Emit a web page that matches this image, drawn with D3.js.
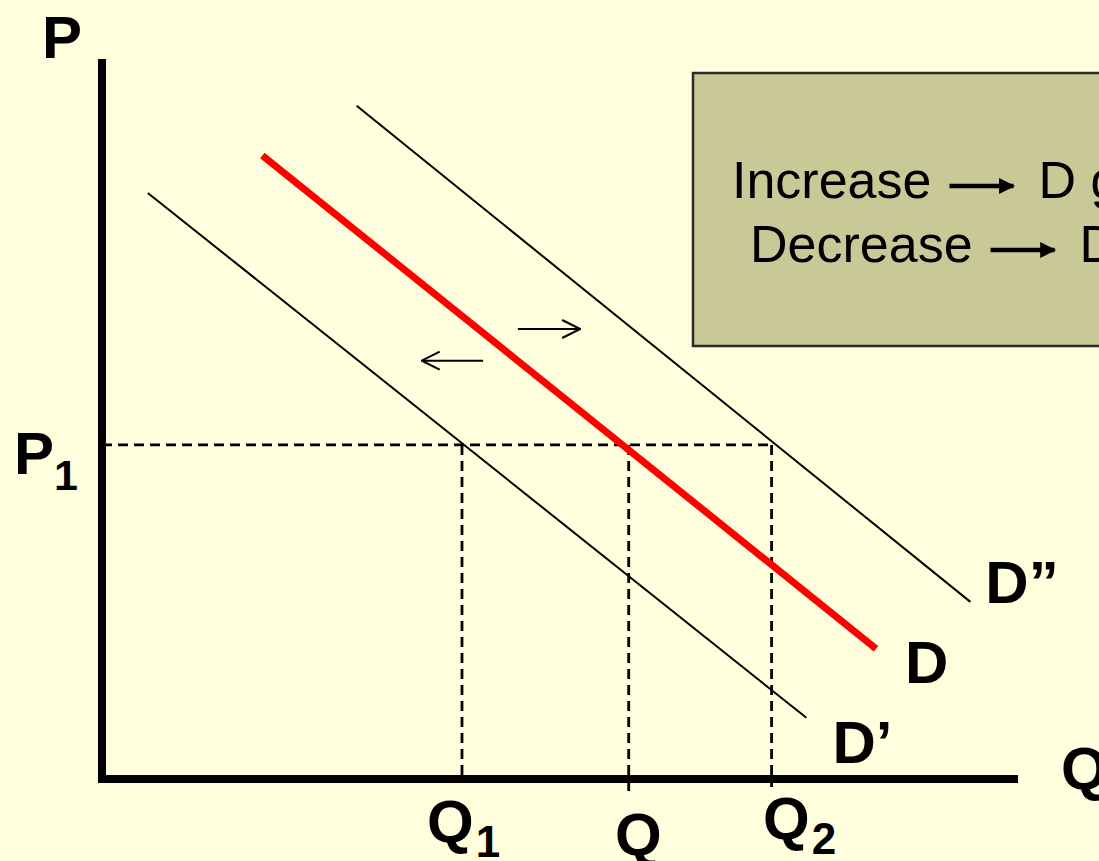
<!DOCTYPE html>
<head>
  <meta charset="utf-8">
  <script src="https://d3js.org/d3.v7.min.js"></script>
  <style>
    body{
      margin: 0;
      background: #ffffdd;
    }
    text{
      font-family: "Liberation Sans", Arial, sans-serif;
      fill: #000000;
    }
    text.axisLabel, text.curveLabel, text.qLabel{
      font-size: 60px;
      font-weight: 700;
    }
    text.boxText{
      font-size: 52px;
    }
  </style>
</head>

<body>
  <script>
    var width = 1099;
    var height = 861;

    // demand curves: D', D, D''
    const curveNames = ["D\u2019", "D", "D\u201D"];
    const curveStartQ = [5.0, 17.5, 27.8];
    const curveStartP = [81.4, 86.6, 93.5];
    const curveEndQ = [76.9, 84.5, 94.8];
    const curveEndP = [8.5, 18.1, 24.6];
    const curveColours = ["#000000", "#ff0000", "#000000"];
    const curveWidths = [2, 7, 2];

    // equilibrium quantities at price P1
    const qLevels = [39.3, 57.5, 73.1];
    const qSubs = ["1", "", "2"];
    const p1 = 46.4;

    // legend lines in the box
    const boxWords = ["Increase", "Decrease"];
    const boxResults = ["D goes right", "D goes left"];

    var svg = d3.select("body").append("svg")
      .attr("width", width)
      .attr("height", height)
      .style("display", "block");

    svg.append("rect")
      .attr("width", width)
      .attr("height", height)
      .style("fill", "#ffffdd");

    let x = d3.scaleLinear()
      .domain([0, 100])
      .range([102, 1018]);

    let y = d3.scaleLinear()
      .domain([0, 100])
      .range([779, 59]);

    //arrow heads
    let defs = svg.append("defs");
    defs.append("marker")
      .attr("id", "solidHead")
      .attr("viewBox", "0 0 10 10")
      .attr("refX", 9)
      .attr("refY", 5)
      .attr("markerUnits", "userSpaceOnUse")
      .attr("markerWidth", 20)
      .attr("markerHeight", 16)
      .attr("orient", "auto")
      .append("path")
      .attr("d", "M0,0 L10,5 L0,10 Z")
      .style("fill", "#000");
    defs.append("marker")
      .attr("id", "openHead")
      .attr("viewBox", "0 0 20 20")
      .attr("refX", 19)
      .attr("refY", 10)
      .attr("markerUnits", "userSpaceOnUse")
      .attr("markerWidth", 20)
      .attr("markerHeight", 20)
      .attr("orient", "auto")
      .append("path")
      .attr("d", "M1,1 L19,10 L1,19")
      .style("fill", "none")
      .style("stroke", "#000")
      .style("stroke-width", 2);

    //Legend box (runs off the right edge)
    svg.append("rect")
      .attr("x", 693)
      .attr("y", 73)
      .attr("width", 500)
      .attr("height", 273)
      .style("fill", "#c9c998")
      .style("stroke", "#2b2b2b")
      .style("stroke-width", 2.5);

    const boxRowX = [732, 750];
    const boxRowY = [198, 262];
    boxWords.forEach((w, i) => {
      let t = svg.append("text")
        .attr("class", "boxText")
        .attr("x", boxRowX[i])
        .attr("y", boxRowY[i])
        .text(w);
      let tw = t.node().getComputedTextLength();
      let ax0 = boxRowX[i] + tw + 18;
      let ax1 = ax0 + 64;
      svg.append("line")
        .attr("x1", ax0)
        .attr("x2", ax1)
        .attr("y1", boxRowY[i] - 12)
        .attr("y2", boxRowY[i] - 12)
        .style("stroke", "#000")
        .style("stroke-width", 4.5)
        .attr("marker-end", "url(#solidHead)");
      svg.append("text")
        .attr("class", "boxText")
        .attr("x", ax1 + 25)
        .attr("y", boxRowY[i])
        .text(boxResults[i]);
    });

    //Dashed guides
    let dash = svg.append("g")
      .style("stroke", "#000")
      .style("stroke-width", 2.8)
      .style("stroke-dasharray", "10,6")
      .style("fill", "none");

    dash.append("line")
      .attr("x1", x(0))
      .attr("x2", x(d3.max(qLevels)))
      .attr("y1", y(p1))
      .attr("y2", y(p1));

    const dropBelow = [0, 14, 8];
    dash.selectAll("line.drop")
      .data(qLevels)
      .enter()
      .append("line")
      .attr("class", "drop")
      .attr("x1", d => x(d))
      .attr("x2", d => x(d))
      .attr("y1", y(p1))
      .attr("y2", (d, i) => y(0) + dropBelow[i]);

    //Demand curves
    const curves = curveNames.map((n, i) => ({
      name: n,
      pts: [[curveStartQ[i], curveStartP[i]], [curveEndQ[i], curveEndP[i]]],
      colour: curveColours[i],
      w: curveWidths[i]
    }));

    let line = d3.line()
      .x(d => x(d[0]))
      .y(d => y(d[1]));

    svg.selectAll("path.curve")
      .data(curves)
      .enter()
      .append("path")
      .attr("class", "curve")
      .attr("d", d => line(d.pts))
      .style("fill", "none")
      .style("stroke", d => d.colour)
      .style("stroke-width", d => d.w);

    //curve labels, offset from the end of each curve
    const labelDx = [26, 29, 15];
    const labelDy = [45, 34, 1];
    svg.selectAll("text.curveLabel")
      .data(curves)
      .enter()
      .append("text")
      .attr("class", "curveLabel")
      .attr("x", (d, i) => x(d.pts[1][0]) + labelDx[i])
      .attr("y", (d, i) => y(d.pts[1][1]) + labelDy[i])
      .text(d => d.name);

    //shift arrows
    const shiftFrom = [[45.4, 62.5], [41.6, 58.1]];
    const shiftTo = [[52.2, 62.5], [34.9, 58.1]];
    shiftFrom.forEach((s, i) => {
      svg.append("line")
        .attr("x1", x(s[0]))
        .attr("y1", y(s[1]))
        .attr("x2", x(shiftTo[i][0]))
        .attr("y2", y(shiftTo[i][1]))
        .style("stroke", "#000")
        .style("stroke-width", 2)
        .attr("marker-end", "url(#openHead)");
    });

    //Axes
    svg.append("line")
      .attr("x1", x(0))
      .attr("x2", x(0))
      .attr("y1", y(100))
      .attr("y2", y(0) + 4)
      .style("stroke", "#000")
      .style("stroke-width", 8);
    svg.append("line")
      .attr("x1", x(0) + 1)
      .attr("x2", x(100))
      .attr("y1", y(0))
      .attr("y2", y(0))
      .style("stroke", "#000")
      .style("stroke-width", 8);

    svg.append("text")
      .attr("class", "axisLabel")
      .attr("x", 42)
      .attr("y", 58)
      .text("P");
    svg.append("text")
      .attr("class", "axisLabel")
      .attr("x", 1061)
      .attr("y", 789)
      .text("Q");

    let p1Label = svg.append("text")
      .attr("class", "axisLabel")
      .attr("x", 14)
      .attr("y", y(p1) + 29);
    p1Label.append("tspan").text("P");
    p1Label.append("tspan")
      .attr("dy", 16)
      .style("font-size", "43px")
      .text("1");

    //Q tick labels
    const qLabelX = [427, 615, 763];
    const qLabelY = [842, 855, 839];
    qLevels.forEach((q, i) => {
      let t = svg.append("text")
        .attr("class", "qLabel")
        .attr("x", qLabelX[i])
        .attr("y", qLabelY[i]);
      t.append("tspan").text("Q");
      if (qSubs[i] !== "") {
        t.append("tspan")
          .attr("dy", 15)
          .attr("dx", 2)
          .style("font-size", "44px")
          .text(qSubs[i]);
      }
    });
  </script>
</body>
